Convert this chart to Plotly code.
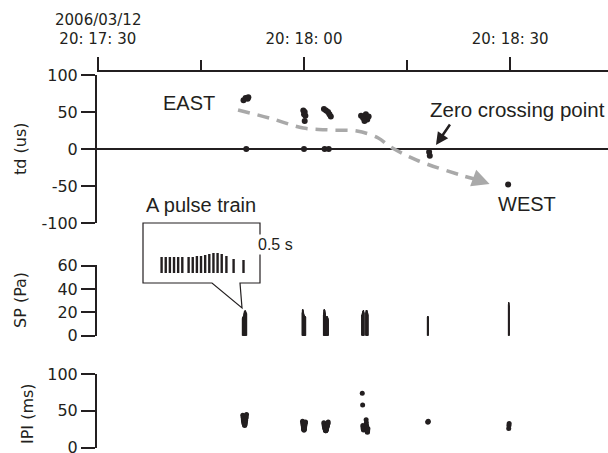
import numpy as np
import plotly.graph_objects as go

W, H = 608, 453

# ---- time axis: seconds after 2006/03/12 20:17:30 ----
date_label = "2006/03/12"
tick_vals = [0, 30, 60]
tick_text = ["20: 17: 30", "20: 18: 00", "20: 18: 30"]
minor_tick_vals = [15, 45]

# ---- y tick labels ----
td_ticks = [-100, -50, 0, 50, 100]
sp_ticks = [0, 20, 40, 60]
ipi_ticks = [0, 50, 100]

# ---- time-difference estimates, td (us) ----
td_time = [21.2, 21.5, 21.8, 21.9, 21.6,
           29.9, 30.1, 30.0, 30.2, 30.1, 30.0,
           32.9, 33.2, 33.5, 33.7, 33.9, 33.0, 33.6,
           38.3, 38.6, 39.0, 39.2, 38.8, 39.4,
           48.2, 48.3,
           59.7]
td_us = [66, 69, 68, 70, 0,
         52, 50, 47, 45, 38, 0,
         54, 52, 50, 47, 44, 0, 0,
         45, 42, 47, 40, 38, 44,
         -4, -9,
         -48]

# ---- pulse trains: start (s), inter-pulse intervals (ms), sound pressure (Pa) ----
train_start = [21.05, 29.75, 32.85, 38.40, 39.00, 47.97, 59.76]
train_ipi_ms = [
    [44, 41, 38, 36, 35, 33, 32, 31, 30, 31, 33, 35, 37, 40, 42, 45],
    [36, 34, 32, 30, 28, 26, 25, 24, 24, 25, 26, 28, 30, 32, 34, 35],
    [34, 32, 30, 29, 28, 27, 26, 25, 24, 24, 23, 23, 24, 24, 25, 26, 27, 28, 29, 30, 31, 32, 33, 35],
    [74, 58, 30, 28, 26, 25, 24, 25, 26],
    [38, 34, 30, 27, 25, 23, 22, 21, 22, 24, 26],
    [35, 35, 36],
    [26, 30, 33],
]
train_sp_pa = [
    [15, 16, 16, 17, 17, 18, 19, 20, 21, 21, 21, 22, 21, 21, 20, 20, 19],
    [20, 22, 23, 22, 21, 20, 19, 18, 18, 18, 17, 17, 17, 17, 17, 16, 16],
    [18, 20, 22, 23, 22, 22, 21, 20, 19, 18, 17, 16, 16, 16, 15, 15, 16, 16, 17, 17, 16, 16, 15, 15, 14],
    [18, 19, 20, 21, 21, 21, 22, 21, 20, 20],
    [20, 21, 22, 22, 22, 21, 21, 20, 20, 19, 19, 18],
    [16, 17, 17, 16],
    [27, 29, 28, 26],
]

# ---- inset: one pulse train, time (s) within the train, relative amplitude ----
icon_t = [0.020, 0.043, 0.066, 0.089, 0.112, 0.135,
          0.170, 0.193, 0.216, 0.239, 0.262, 0.285, 0.308, 0.331, 0.354,
          0.380, 0.420, 0.475]
icon_amp = [16, 16, 16, 16, 16, 16,
            16, 16, 17, 17, 18, 19, 20, 20, 19, 17, 14, 13]

# ---- gray drift arrow path (t, td) ----
drift_t = [20.4, 25.1, 29.9, 33.8, 37.7, 40.8, 42.4, 46.4, 52.7, 55.6]
drift_td = [52.7, 41.5, 28.4, 25.7, 24.3, 14.9, 4.0, -15.0, -35.0, -42.5]

INK = "#231f20"
GRAY = "#a9a9a9"


def px_x(p):
    return p / W


def px_y(p):
    return 1 - p / H


# pulse times from cumulative intervals
pulse_t, pulse_amp, ipi_t, ipi_v = [], [], [], []
for t0, ipis, amps in zip(train_start, train_ipi_ms, train_sp_pa):
    times = t0 + np.concatenate([[0.0], np.cumsum(ipis) / 1000.0])
    pulse_t.extend(times.tolist())
    pulse_amp.extend(amps)
    ipi_t.extend(times[1:].tolist())
    ipi_v.extend(ipis)

sp_x, sp_y = [], []
for t, a in zip(pulse_t, pulse_amp):
    sp_x += [t, t, None]
    sp_y += [0, a, None]

icon_x, icon_y = [], []
for t, a in zip(icon_t, icon_amp):
    icon_x += [t, t, None]
    icon_y += [0, a, None]

fig = go.Figure()

# drift arrow (behind the points)
fig.add_trace(go.Scatter(x=drift_t, y=drift_td, mode="lines",
                         line=dict(color=GRAY, width=3.5, dash="12px,8px",
                                   shape="spline"),
                         xaxis="x", yaxis="y", hoverinfo="skip"))
fig.add_trace(go.Scatter(x=td_time, y=td_us, mode="markers",
                         marker=dict(color=INK, size=6),
                         xaxis="x", yaxis="y"))
fig.add_trace(go.Scatter(x=sp_x, y=sp_y, mode="lines",
                         line=dict(color=INK, width=1.4),
                         xaxis="x2", yaxis="y2"))
fig.add_trace(go.Scatter(x=ipi_t, y=ipi_v, mode="markers",
                         marker=dict(color=INK, size=5),
                         xaxis="x3", yaxis="y3"))
fig.add_trace(go.Scatter(x=icon_x, y=icon_y, mode="lines",
                         line=dict(color=INK, width=2.4),
                         xaxis="x4", yaxis="y4"))

xdom = [px_x(97), 1.0]
xr = [-0.12, 74.23]
xfont = dict(family="DejaVu Sans", size=15, color=INK)
yfont = dict(family="DejaVu Sans", size=16, color=INK)
yaxis_common = dict(showgrid=False, ticks="outside", ticklen=14, tickwidth=1.5,
                    tickcolor=INK, showline=True, linewidth=2, linecolor=INK,
                    tickfont=yfont, fixedrange=True, automargin=False,
                    ticklabeloverflow="allow")


def tick_labels(vals):
    return [str(v) for v in vals]  # plain hyphen for negatives


fig.update_layout(
    width=W, height=H,
    margin=dict(l=0, r=0, t=0, b=0, pad=0),
    paper_bgcolor="white", plot_bgcolor="white",
    showlegend=False,
    font=dict(family="DejaVu Sans", size=15, color=INK),
    xaxis=dict(domain=xdom, range=xr, side="top", anchor="free",
               position=px_y(70.5), showgrid=False, zeroline=False,
               showline=True, linewidth=2, linecolor=INK, automargin=False,
               ticks="outside", ticklen=13, tickwidth=1.5, tickcolor=INK,
               tickvals=tick_vals, ticktext=tick_text, tickfont=xfont,
               ticklabelstandoff=7, ticklabeloverflow="allow",
               minor=dict(tickvals=minor_tick_vals, ticklen=10, tickwidth=1.5,
                          tickcolor=INK, ticks="outside", showgrid=False)),
    yaxis=dict(domain=[px_y(223), px_y(75)], range=[-100, 100], anchor="x",
               tickvals=td_ticks, ticktext=tick_labels(td_ticks), zeroline=True,
               zerolinecolor=INK, zerolinewidth=2, **yaxis_common),
    xaxis2=dict(domain=xdom, range=xr, matches="x", visible=False, anchor="y2",
                automargin=False),
    yaxis2=dict(domain=[px_y(335.7), px_y(264.6)], range=[0, 61], anchor="x2",
                tickvals=sp_ticks, ticktext=tick_labels(sp_ticks), zeroline=False,
                **yaxis_common),
    xaxis3=dict(domain=xdom, range=xr, matches="x", visible=False, anchor="y3",
                automargin=False),
    yaxis3=dict(domain=[px_y(447.7), px_y(374)], range=[0, 100], anchor="x3",
                tickvals=ipi_ticks, ticktext=tick_labels(ipi_ticks), zeroline=False,
                **yaxis_common),
    xaxis4=dict(domain=[px_x(158), px_x(248)], range=[0, 0.5], visible=False,
                anchor="y4", automargin=False),
    yaxis4=dict(domain=[px_y(273), px_y(253)], range=[0, 20], visible=False,
                anchor="x4", automargin=False),
)

# date above the first time label
fig.add_annotation(xref="paper", yref="paper", x=px_x(98), y=px_y(20),
                   text=date_label, showarrow=False, font=xfont,
                   xanchor="center", yanchor="middle")

# callout box with a pointer toward the first pulse train
box = [(143, 223), (260, 223), (260, 283), (240, 283), (242, 308),
       (212, 283), (143, 283)]
path = "M " + " L ".join(f"{px_x(x):.5f},{px_y(y):.5f}" for x, y in box) + " Z"
fig.add_shape(type="path", path=path, xref="paper", yref="paper",
              line=dict(color=INK, width=1.2), fillcolor="rgba(0,0,0,0)")

ann_font = dict(family="Liberation Sans", size=20, color=INK)
annotations = [
    dict(text="EAST", x=px_x(189), y=px_y(103)),
    dict(text="WEST", x=px_x(527), y=px_y(204)),
    dict(text="A pulse train", x=px_x(201), y=px_y(205)),
]
for a in annotations:
    fig.add_annotation(xref="paper", yref="paper", showarrow=False,
                       font=ann_font, xanchor="center", yanchor="middle",
                       text=a["text"], x=a["x"], y=a["y"])
fig.add_annotation(xref="paper", yref="paper", showarrow=False,
                   font=dict(family="Liberation Sans", size=20.5, color=INK),
                   xanchor="right", yanchor="middle", text="Zero crossing point",
                   x=px_x(607), y=px_y(109))

# "0.5 s" scale label in the inset
fig.add_annotation(xref="paper", yref="paper", x=px_x(256), y=px_y(244),
                   xanchor="left", yanchor="middle", showarrow=False,
                   text="0.5 s", bgcolor="white",
                   font=dict(family="Liberation Sans", size=16, color=INK))
# double-headed 0.5 s arrow (inset coordinates)
arrow_level = 32.0
fig.add_annotation(xref="x4", yref="y4", axref="x4", ayref="y4",
                   x=0.5, y=arrow_level, ax=0.0, ay=arrow_level, text="",
                   showarrow=True, arrowhead=2, arrowside="end+start",
                   arrowsize=1, arrowwidth=1.2, arrowcolor=INK)

# arrow to the zero crossing
fig.add_annotation(x=49.2, y=5.4, xref="x", yref="y", text="",
                   showarrow=True, ax=15, ay=-22, arrowhead=2, arrowsize=1,
                   arrowwidth=2.5, arrowcolor=INK)

# head of the drift arrow
fig.add_annotation(x=57.0, y=-47.3, xref="x", yref="y", axref="x", ayref="y",
                   ax=55.6, ay=-42.5, text="", showarrow=True, arrowhead=2,
                   arrowsize=1, arrowwidth=3.5, arrowcolor=GRAY)

# axis titles
titles = [("td (us)", 20, 149), ("SP (Pa)", 20, 300), ("IPI (ms)", 27, 414)]
for txt, x, y in titles:
    fig.add_annotation(xref="paper", yref="paper", x=px_x(x), y=px_y(y),
                       text=txt, textangle=-90, showarrow=False,
                       font=dict(family="DejaVu Sans", size=16, color=INK),
                       xanchor="center", yanchor="middle")

fig.write_html("out.html")
